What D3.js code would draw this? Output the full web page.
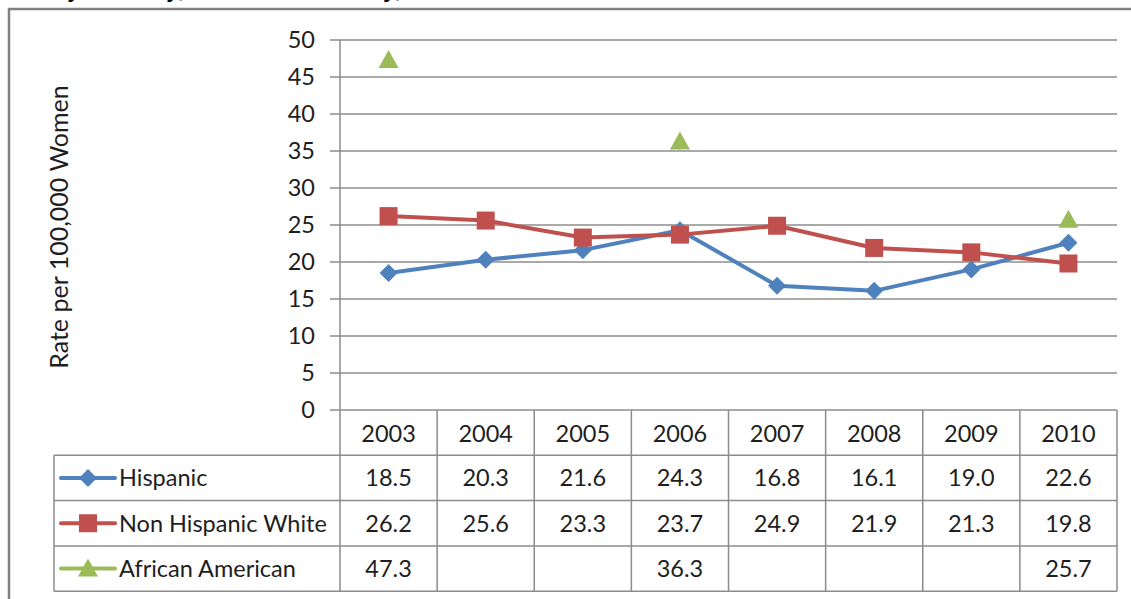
<!DOCTYPE html>
<html>
<head>
<meta charset="utf-8">
<script src="https://cdn.jsdelivr.net/npm/d3@7"></script>
<style>
  body { margin: 0; background: #fff; }
  svg { display: block; font-family: Lato, "Open Sans", sans-serif; }
</style>
</head>
<body>
<svg id="chart" width="1131" height="599"></svg>
<script>
// Data
const years = ["2003", "2004", "2005", "2006", "2007", "2008", "2009", "2010"];
const hispanic = [18.5, 20.3, 21.6, 24.3, 16.8, 16.1, 19.0, 22.6];
const nonHispanicWhite = [26.2, 25.6, 23.3, 23.7, 24.9, 21.9, 21.3, 19.8];
const africanAmerican = [47.3, null, null, 36.3, null, null, null, 25.7];
const yTicks = [0, 5, 10, 15, 20, 25, 30, 35, 40, 45, 50];

const series = [
    { name: "Hispanic", values: hispanic, color: "#4F81BD", marker: "diamond" },
    { name: "Non Hispanic White", values: nonHispanicWhite, color: "#C0504D", marker: "square" },
    { name: "African American", values: africanAmerican, color: "#9BBB59", marker: "triangle" }
];

const svg = d3.select("#chart");
const plotLeft = 340, plotRight = 1117, plotTop = 40, plotBottom = 410;
const rowH = 45.3;
const tableLeft = 54;
const gridColor = "#8c8c8c";
const textColor = "#1e1e1e";
const fontSize = "23.5px";

const x = d3.scaleBand().domain(years).range([plotLeft, plotRight]);
const y = d3.scaleLinear().domain([0, 50]).range([plotBottom, plotTop]);

// Title, mostly above the top edge as in the source image
svg.append("text")
    .attr("x", 2)
    .attr("y", -3)
    .style("font-family", "'Liberation Sans', Arial, sans-serif")
    .style("font-weight", "bold")
    .style("font-style", "italic")
    .style("font-size", "22px")
    .text("Rate by Ethnicity, Miami-Dade County, 2003-2010");

// Outer chart border
svg.append("rect")
    .attr("x", 9).attr("y", 9)
    .attr("width", 1140).attr("height", 620)
    .attr("fill", "none")
    .attr("stroke", "#808080")
    .attr("stroke-width", 2.5);

// Gridlines with ticks
svg.append("g")
    .selectAll("line")
    .data(yTicks)
    .join("line")
    .attr("x1", plotLeft - 10)
    .attr("x2", plotRight)
    .attr("y1", d => y(d))
    .attr("y2", d => y(d))
    .attr("stroke", gridColor)
    .attr("stroke-width", 1.5);

svg.append("g")
    .selectAll("text")
    .data(yTicks)
    .join("text")
    .attr("x", plotLeft - 25)
    .attr("y", d => y(d))
    .attr("dy", "0.36em")
    .attr("text-anchor", "end")
    .style("font-size", fontSize)
    .style("fill", textColor)
    .text(d => d);

// Y axis title
svg.append("text")
    .attr("transform", `translate(68, ${(plotTop + plotBottom) / 2 + 2}) rotate(-90)`)
    .attr("text-anchor", "middle")
    .style("font-size", "25px")
    .style("fill", textColor)
    .text("Rate per 100,000 Women");

// Data table lines
const tableBottom = plotBottom + rowH * 4;
const tbl = svg.append("g").attr("stroke", gridColor).attr("stroke-width", 1.5);

tbl.append("line")
    .attr("x1", plotLeft).attr("x2", plotLeft)
    .attr("y1", plotTop).attr("y2", tableBottom);

tbl.selectAll(".col")
    .data(years)
    .join("line")
    .attr("class", "col")
    .attr("x1", d => x(d) + x.bandwidth())
    .attr("x2", d => x(d) + x.bandwidth())
    .attr("y1", plotBottom)
    .attr("y2", tableBottom);

tbl.selectAll(".row")
    .data([1, 2, 3, 4])
    .join("line")
    .attr("class", "row")
    .attr("x1", tableLeft)
    .attr("x2", plotRight)
    .attr("y1", d => plotBottom + rowH * d)
    .attr("y2", d => plotBottom + rowH * d);

tbl.append("line")
    .attr("x1", tableLeft).attr("x2", tableLeft)
    .attr("y1", plotBottom + rowH).attr("y2", tableBottom);

// Year header
svg.append("g")
    .selectAll("text")
    .data(years)
    .join("text")
    .attr("x", d => x(d) + x.bandwidth() / 2)
    .attr("y", plotBottom + rowH / 2 + 1)
    .attr("dy", "0.36em")
    .attr("text-anchor", "middle")
    .style("font-size", fontSize)
    .style("fill", textColor)
    .text(d => d);

// Marker shapes
function drawMarker(g, type, color) {
    if (type === "diamond") {
        g.append("path").attr("d", "M0,-9L9,0L0,9L-9,0Z").attr("fill", color);
    } else if (type === "square") {
        g.append("rect").attr("x", -9).attr("y", -9).attr("width", 18).attr("height", 18).attr("fill", color);
    } else {
        g.append("path").attr("d", "M0,-10L10,8L-10,8Z").attr("fill", color);
    }
}

// Lines and markers
const line = d3.line()
    .defined(d => d != null)
    .x((d, i) => x(years[i]) + x.bandwidth() / 2)
    .y(d => y(d));

series.forEach((s, si) => {
    svg.append("path")
        .datum(s.values)
        .attr("fill", "none")
        .attr("stroke", s.color)
        .attr("stroke-width", 4)
        .attr("stroke-linejoin", "round")
        .attr("d", line);

    s.values.forEach((v, i) => {
        if (v == null) return;
        const g = svg.append("g")
            .attr("transform", `translate(${x(years[i]) + x.bandwidth() / 2},${y(v)})`);
        drawMarker(g, s.marker, s.color);
    });

    // table row
    const rowY = plotBottom + rowH * (si + 1) + rowH / 2;
    const key = svg.append("g").attr("transform", `translate(0,${rowY})`);
    key.append("line")
        .attr("x1", 61).attr("x2", 115)
        .attr("y1", 0).attr("y2", 0)
        .attr("stroke", s.color).attr("stroke-width", 4)
        .attr("stroke-linecap", "round");
    const m = key.append("g").attr("transform", "translate(88,0)");
    drawMarker(m, s.marker, s.color);

    key.append("text")
        .attr("x", 119)
        .attr("y", 0)
        .attr("dy", "0.36em")
        .style("font-size", fontSize)
        .style("fill", textColor)
        .text(s.name);

    svg.append("g")
        .selectAll("text")
        .data(s.values)
        .join("text")
        .attr("x", (d, i) => x(years[i]) + x.bandwidth() / 2)
        .attr("y", rowY)
        .attr("dy", "0.36em")
        .attr("text-anchor", "middle")
        .style("font-size", fontSize)
        .style("fill", textColor)
        .text(d => d == null ? "" : d.toFixed(1));
});
</script>
</body>
</html>
